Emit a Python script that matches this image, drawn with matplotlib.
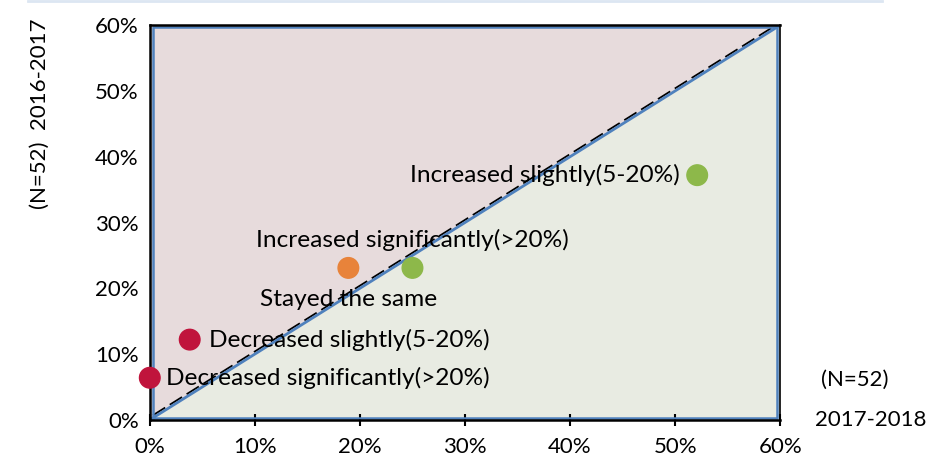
import matplotlib.pyplot as plt
import matplotlib.lines as mlines

plt.rcParams['font.family'] = ['Lato', 'DejaVu Sans']

# Data (share of respondents, %)
labels = ['Decreased significantly(>20%)', 'Decreased slightly(5-20%)',
          'Increased significantly(>20%)', 'Stayed the same',
          'Increased slightly(5-20%)']
x_vals = [0.0, 3.8, 18.9, 25.0, 52.1]      # 2017-2018
y_vals = [6.4, 12.2, 23.1, 23.1, 37.2]     # 2016-2017
colors = ['#c0143c', '#c0143c', '#e8833a', '#8db84a', '#8db84a']
ticks = [0, 10, 20, 30, 40, 50, 60]

fig = plt.figure(figsize=(9.48, 4.66), dpi=100)
ax = fig.add_axes([0.158, 0.099, 0.665, 0.847])
ax.set_xlim(0, 60)
ax.set_ylim(0, 60)

# shaded triangles
ax.fill([0, 0, 60], [0, 60, 60], color='#e7dbdc', zorder=0)
ax.fill([0, 60, 60], [0, 0, 60], color='#e8ebe2', zorder=0)

# diagonal: black dashed + blue line
ax.plot([0.3, 60], [0.7, 60.4], color='black', lw=1.3, ls=(0, (8, 3)), zorder=1)
ax.plot([0, 60], [0, 60], color='#4f81bd', lw=2, zorder=2)

# blue border inside the frame
ax.plot([0.3, 0.3, 59.7, 59.7, 0.3], [0.3, 59.7, 59.7, 0.3, 0.3],
        color='#4f81bd', lw=1.8, zorder=2)

ax.scatter(x_vals, y_vals, s=220, c=colors, zorder=4, clip_on=False)

fs = 17.6
ax.text(1.5, y_vals[0], labels[0], fontsize=fs, va='center', ha='left', zorder=5)
ax.text(5.6, y_vals[1], labels[1], fontsize=fs, va='center', ha='left', zorder=5)
ax.text(10.1, 27.3, labels[2], fontsize=fs, va='center', ha='left', zorder=5)
ax.text(10.5, 18.3, labels[3], fontsize=fs, va='center', ha='left', zorder=5)
ax.text(50.4, y_vals[4], labels[4], fontsize=fs, va='center', ha='right', zorder=5)

for s in ax.spines.values():
    s.set_color('black')
    s.set_linewidth(1.8)
ax.spines['right'].set_linewidth(1.2)

tfs = 16
ax.set_xticks(ticks)
ax.set_yticks(ticks)
ax.set_xticklabels([f'{t}%' for t in ticks], fontsize=tfs)
ax.set_yticklabels([f'{t}%' for t in ticks], fontsize=tfs)
ax.tick_params(axis='x', direction='inout', length=8, width=1.5, pad=8)
ax.tick_params(axis='y', length=0, pad=8)

fig.text(0.042, 0.755, '(N=52)  2016-2017', rotation=90, fontsize=tfs,
         ha='center', va='center')
fig.text(0.902, 0.185, '(N=52)', fontsize=tfs, ha='center', va='center')
fig.text(0.918, 0.098, '2017-2018', fontsize=tfs, ha='center', va='center')

fig.add_artist(mlines.Line2D([0.03, 0.93], [0.997, 0.997], color='#dce6f2',
                             lw=2, transform=fig.transFigure))

fig.savefig('out.png', dpi=100)
